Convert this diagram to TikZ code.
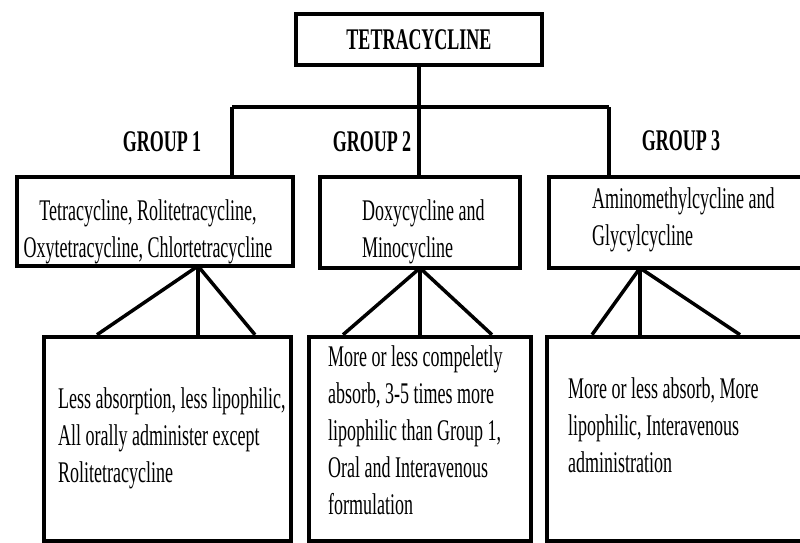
\documentclass[tikz,border=0pt]{standalone}
\usepackage{fontspec}
\setmainfont{Liberation Serif}[FakeStretch=0.6]
\usepackage{tikz}

\begin{document}
\begin{tikzpicture}[x=1pt,y=-1pt,
  box/.style={draw,line width=4.5pt,inner sep=0pt},
  conn/.style={line width=3.5pt},
  txt/.style={inner sep=0pt,font=\fontsize{30}{37}\selectfont},
  head/.style={inner sep=0pt,font=\fontsize{30}{37}\selectfont\bfseries}]
\useasboundingbox(0,0) rectangle (800,543);
\clip(0,0) rectangle (800,543);
% boxes
\node[box,head,minimum width=246pt,minimum height=51pt](top) at (419,39.5){TETRACYCLINE};
\node[box,minimum width=276pt,minimum height=89pt](g1) at (155,221.5){};
\node[box,minimum width=200pt,minimum height=91pt](g2) at (420,222.5){};
\node[box,minimum width=281pt,minimum height=91pt](g3) at (689.5,222.5){};
\node[box,minimum width=247pt,minimum height=204pt](la) at (167.5,439){};
\node[box,minimum width=222pt,minimum height=204pt](lb) at (420,439){};
\node[box,minimum width=283pt,minimum height=204pt](lc) at (688.5,439){};
% group labels
\node[head](h1) at (162,142){GROUP 1};
\node[head](h2) at (372,142){GROUP 2};
\node[head](h3) at (681,141){GROUP 3};
% texts
\node[txt,align=center,anchor=north](t1) at (148,199.5){Tetracycline, Rolitetracycline,\\Oxytetracycline, Chlortetracycline};
\node[txt,align=left,anchor=north west](t2) at (362,199.5){Doxycycline and\\Minocycline};
\node[txt,align=left,anchor=north west](t3) at (592,187.5){Aminomethylcycline and\\Glycylcycline};
\node[txt,align=left,anchor=north west](ta) at (58,387.5){Less absorption, less lipophilic,\\All orally administer except\\Rolitetracycline};
\node[txt,align=left,anchor=north west](tb) at (328,345.5){More or less compeletly\\absorb, 3-5 times more\\lipophilic than Group 1,\\Oral and Interavenous\\formulation};
\node[txt,align=left,anchor=north west](tc) at (568,377.5){More or less absorb, More\\lipophilic, Interavenous\\administration};
% tree
\coordinate(d1) at (232,107);
\coordinate(d2) at (419,107);
\coordinate(d3) at (609,107);
\draw[conn](top.south)--(d2);
\draw[conn](d1)--(d3);
\draw[conn](d1)--(d1|-g1.north);
\draw[conn](d2)--(d2|-g2.north);
\draw[conn](d3)--(d3|-g3.north);
% forks
\coordinate(a1) at (198,266);
\coordinate(a2) at (420,268);
\coordinate(a3) at (640,268);
\foreach \x in {97,198,255}\draw[conn](a1)--(\x,0|-la.north);
\foreach \x in {343,420,492}\draw[conn](a2)--(\x,0|-lb.north);
\foreach \x in {592,640,740}\draw[conn](a3)--(\x,0|-lc.north);
\end{tikzpicture}
\end{document}
